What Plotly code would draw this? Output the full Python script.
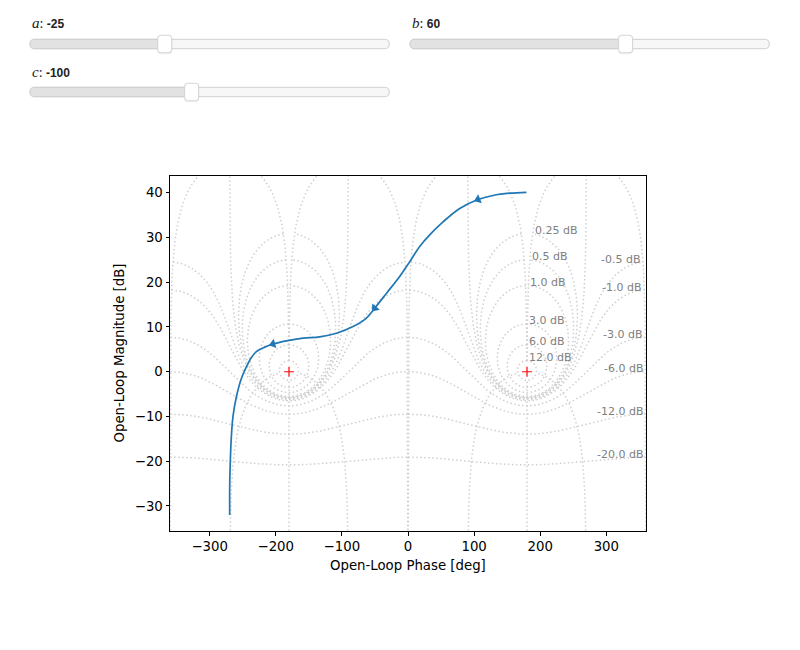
import numpy as np
import plotly.graph_objects as go

# ---------------- data ----------------
# slider states shown above the chart
slider_names = ["a", "b", "c"]
slider_values = [-25, 60, -100]
slider_mins = [-100, 0, -1000]
slider_maxs = [100, 100, 1000]

# open-loop response (traversal order: increasing frequency)
phase_deg = [179.1, 153.9, 128.6, 105.9, 78.2, 53.0, 32.8, 17.7, 2.6, -12.6,
             -32.7, -50.4, -62.9, -83.2, -108.3, -133.6, -158.8, -184.0,
             -204.2, -216.8, -229.3, -236.9, -242.1, -252.0, -259.6, -264.7,
             -267.2, -268.7, -269.7, -269.7]
mag_db = [40.1, 39.9, 39.4, 38.5, 36.5, 33.5, 30.6, 28.0, 24.6, 21.3,
          17.5, 14.2, 12.0, 10.1, 8.6, 7.8, 7.5, 6.9,
          6.2, 5.5, 4.5, 3.2, 1.8, -1.5, -5.6, -10.0,
          -14.5, -19.7, -25.7, -32.0]
arrow_idx = [3, 11, 18]

critical_phase = [-180, 180]
critical_mag = [0, 0]

# Nichols grid definition
cl_mags = [-40.0, -20.0, -12.0, -6.0, -3.0, -1.0, -0.5, 0.0, 0.25, 0.5, 1.0, 3.0, 6.0, 12.0]
cl_phases = [-359.75, -270.0, -180.0, -90.0, -0.25]
phase_offsets = [0.0, 360.0]
label_offset = 360.0

x_range = [-360, 360]
y_range = [-35.6, 43.75]
x_ticks = [-300, -200, -100, 0, 100, 200, 300]
y_ticks = [-30, -20, -10, 0, 10, 20, 30, 40]

# ---------------- grid contours ----------------
def closed_loop_contours(gmag, gph):
    gcl = gmag * np.exp(1j * gph)
    return gcl / (1.0 - gcl)

cm = np.array(cl_mags)
cp = np.array(cl_phases)
ph = np.radians(np.linspace(cp.min(), cp.max(), 2000))
Mg, Pg = np.meshgrid(10.0 ** (cm / 20.0), ph)
m = closed_loop_contours(Mg, Pg)
m_mag = 20 * np.log10(np.abs(m))
m_phase = np.mod(np.degrees(np.angle(m)), -360.0)

mg = np.linspace(10 ** (cm.min() / 20.0), 10 ** (cm.max() / 20.0), 2000)
Pn, Mn = np.meshgrid(np.radians(cp), mg)
n = closed_loop_contours(Mn, Pn)
n_mag = 20 * np.log10(np.abs(n))
n_phase = np.mod(np.degrees(np.angle(n)), -360.0)

gx, gy = [], []
for off in phase_offsets:
    for P, Mm in ((m_phase, m_mag), (n_phase, n_mag)):
        for j in range(P.shape[1]):
            gx.append(P[:, j] + off); gy.append(Mm[:, j])
            gx.append(np.array([np.nan])); gy.append(np.array([np.nan]))
gx = np.concatenate(gx); gy = np.concatenate(gy)

# ---------------- figure ----------------
L, T, W, H = 170, 176, 476, 355
FIG_W, FIG_H = 800, 650

def pxx(x):
    return (x - L) / W

def pxy(y):
    return (T + H - y) / H

fig = go.Figure()
fig.add_trace(go.Scatter(x=gx, y=gy, mode="lines", hoverinfo="skip",
                         line=dict(color="#cfcfcf", width=1.5, dash="1.5px,2.5px")))
fig.add_trace(go.Scatter(x=phase_deg, y=mag_db, mode="lines",
                         line=dict(color="#1f77b4", width=1.7, shape="spline", smoothing=1.0)))

# arrow heads along the curve
sx = W / (x_range[1] - x_range[0])
sy = H / (y_range[1] - y_range[0])
ax_, ay_, ang = [], [], []
for i in arrow_idx:
    dx = (phase_deg[i + 1] - phase_deg[i - 1]) * sx
    dy = (mag_db[i + 1] - mag_db[i - 1]) * sy
    ax_.append(phase_deg[i]); ay_.append(mag_db[i])
    ang.append(float(np.degrees(np.arctan2(dx, dy))))
fig.add_trace(go.Scatter(x=ax_, y=ay_, mode="markers",
                         marker=dict(symbol="triangle-up", size=8.5, angle=ang,
                                     color="#1f77b4", line=dict(width=0))))
fig.add_trace(go.Scatter(x=critical_phase, y=critical_mag, mode="markers",
                         marker=dict(symbol="cross-thin", size=7,
                                     line=dict(color="red", width=1.2))))

annotations = []
# magnitude labels
for j, mv in enumerate(cl_mags):
    x = m_phase[-1, j] + label_offset
    y = m_mag[-1, j]
    if y_range[0] < y < y_range[1]:
        annotations.append(dict(x=x, y=y, xref="x", yref="y", text=f"{mv} dB",
                                showarrow=False, xanchor="right" if mv < 0 else "left",
                                yanchor="bottom", yshift=-5.5,
                                font=dict(family="DejaVu Sans", size=11, color="#808080")))

# axis titles
annotations.append(dict(x=0.5, y=0, xref="paper", yref="paper", text="Open-Loop Phase [deg]",
                        showarrow=False, xanchor="center", yanchor="middle", yshift=-34,
                        font=dict(family="DejaVu Sans", size=13.3, color="black")))
annotations.append(dict(x=0, y=0.5, xref="paper", yref="paper", text="Open-Loop Magnitude [dB]",
                        showarrow=False, xanchor="center", yanchor="middle", xshift=-51,
                        textangle=-90,
                        font=dict(family="DejaVu Sans", size=13.3, color="black")))

# ---------------- slider widgets (drawn) ----------------
def rrect_path(x0, y0, x1, y1, r, round_right=True):
    if round_right:
        s = (f"M {pxx(x0 + r)},{pxy(y0)} L {pxx(x1 - r)},{pxy(y0)} "
             f"Q {pxx(x1)},{pxy(y0)} {pxx(x1)},{pxy(y0 + r)} L {pxx(x1)},{pxy(y1 - r)} "
             f"Q {pxx(x1)},{pxy(y1)} {pxx(x1 - r)},{pxy(y1)} ")
    else:
        s = (f"M {pxx(x0 + r)},{pxy(y0)} L {pxx(x1)},{pxy(y0)} L {pxx(x1)},{pxy(y1)} ")
    s += (f"L {pxx(x0 + r)},{pxy(y1)} Q {pxx(x0)},{pxy(y1)} {pxx(x0)},{pxy(y1 - r)} "
          f"L {pxx(x0)},{pxy(y0 + r)} Q {pxx(x0)},{pxy(y0)} {pxx(x0 + r)},{pxy(y0)} Z")
    return s

slider_layout = [(30, 23, 44), (410, 23, 44), (30, 72, 92)]  # left px, label y, rail center y
rail_w, rail_h = 359.3, 9.4
handle_w, handle_h = 14, 17.5
shapes = []
for name, v, lo, hi, (x0, ly, ry) in zip(slider_names, slider_values, slider_mins,
                                          slider_maxs, slider_layout):
    f = (v - lo) / (hi - lo)
    hx = x0 + f * rail_w
    y0, y1 = ry - rail_h / 2, ry + rail_h / 2
    shapes.append(dict(type="path", xref="paper", yref="paper", layer="above",
                       path=rrect_path(x0, y0, x0 + rail_w, y1, rail_h / 2),
                       fillcolor="#f7f7f7", line=dict(color="#cfcfcf", width=1)))
    shapes.append(dict(type="path", xref="paper", yref="paper", layer="above",
                       path=rrect_path(x0, y0, hx, y1, rail_h / 2, round_right=False),
                       fillcolor="#e2e2e2", line=dict(color="#cfcfcf", width=1)))
    # faint shadow + handle
    shapes.append(dict(type="path", xref="paper", yref="paper", layer="above",
                       path=rrect_path(hx - handle_w / 2 - 0.5, ry - handle_h / 2 + 0.5,
                                       hx + handle_w / 2 + 0.5, ry + handle_h / 2 + 1.5, 3.5),
                       fillcolor="rgba(0,0,0,0.06)", line=dict(width=0)))
    shapes.append(dict(type="path", xref="paper", yref="paper", layer="above",
                       path=rrect_path(hx - handle_w / 2, ry - handle_h / 2,
                                       hx + handle_w / 2, ry + handle_h / 2, 3),
                       fillcolor="#ffffff", line=dict(color="#d4d4d4", width=1)))
    annotations.append(dict(
        x=pxx(x0), y=pxy(ly), xref="paper", yref="paper", xanchor="left", yanchor="middle",
        showarrow=False,
        text=(f"<span style='font-family:Liberation Serif;font-size:15px'><i>{name}</i></span>"
              f"<span style='font-family:Liberation Serif;font-size:14px'>:</span> <b>{v}</b>"),
        font=dict(family="Liberation Sans", size=12, color="#222222")))

fig.update_layout(
    width=FIG_W, height=FIG_H,
    margin=dict(l=L, r=FIG_W - L - W, t=T, b=FIG_H - T - H, pad=0),
    paper_bgcolor="white", plot_bgcolor="white",
    showlegend=False,
    annotations=annotations,
    shapes=shapes,
    font=dict(family="DejaVu Sans", size=13.3, color="black"),
)
axis_common = dict(showline=True, mirror=True, linecolor="black", linewidth=1,
                   ticks="outside", ticklen=3.5, tickwidth=0.8, tickcolor="black",
                   showgrid=False, zeroline=False,
                   tickfont=dict(family="DejaVu Sans", size=13.3, color="black"))
fig.update_xaxes(range=x_range, tickvals=x_ticks, **axis_common)
fig.update_yaxes(range=y_range, tickvals=y_ticks, **axis_common)

fig.write_html("out.html")
